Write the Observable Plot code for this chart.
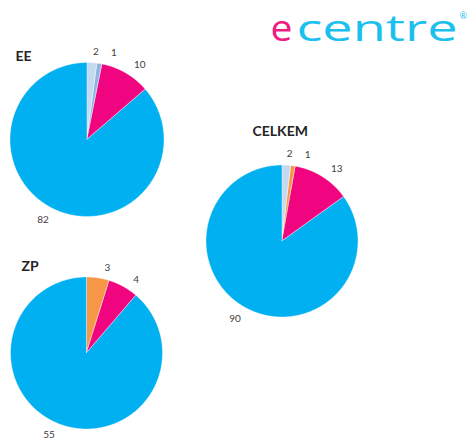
<!DOCTYPE html>
<html>
<head>
<meta charset="utf-8">
<script src="https://cdn.jsdelivr.net/npm/d3@7"></script>
<script src="https://cdn.jsdelivr.net/npm/@observablehq/plot@0.6"></script>
<style>
  html, body { margin: 0; padding: 0; background: #ffffff; }
  #chart { width: 467px; height: 439px; }
</style>
</head>
<body>
<div id="chart"></div>
<script>
// ---- data ----
const categories = ["kategorie 1", "kategorie 2", "kategorie 3", "kategorie 4", "kategorie 5"];
const pieNames = ["EE", "CELKEM", "ZP"];
const eeValues = [2, 1, 0, 10, 82];
const celkemValues = [2, 0, 1, 13, 90];
const zpValues = [0, 0, 3, 4, 55];
const logoParts = ["e", "centre", "®"];

// ---- style / layout ----
const colors = ["#C5D9F1", "#8DB4E2", "#F79646", "#F0047F", "#00B0F0"];
const W = 467, H = 439;
const layout = [
  { pie: "EE",     cx: 87,   cy: 139.5, r: 77, tx: 15,  ty: 60.5 },
  { pie: "CELKEM", cx: 282,  cy: 241,   r: 76, tx: 252, ty: 135 },
  { pie: "ZP",     cx: 86.5, cy: 353,   r: 76, tx: 21,  ty: 270 }
];
const seriesByPie = { EE: eeValues, CELKEM: celkemValues, ZP: zpValues };

const sliceRows = [];
const labelRows = [];
const titleRows = [];
for (const L of layout) {
  const vals = seriesByPie[L.pie];
  titleRows.push({ x: L.tx, y: L.ty, text: L.pie });
  const arcs = d3.pie().sort(null).value(d => d)(vals);
  const pieLabels = [];
  arcs.forEach((a, i) => {
    if (!a.value) return;
    const span = a.endAngle - a.startAngle;
    const n = Math.max(2, Math.ceil(span / 0.01) + 1);
    for (let k = 0; k < n; k++) {
      const t = a.startAngle + span * k / (n - 1);
      sliceRows.push({
        id: L.pie + "-" + i, cat: categories[i],
        x1: L.cx, y1: L.cy,
        x2: L.cx + L.r * Math.sin(t), y2: L.cy - L.r * Math.cos(t)
      });
    }
    const m = (a.startAngle + a.endAngle) / 2 + 0.08;
    const w = String(a.value).length * 5.6, h = 8;
    const ext = Math.abs(Math.sin(m)) * w / 2 + Math.abs(Math.cos(m)) * h / 2;
    const d = L.r + 8 + ext;
    pieLabels.push({ x: L.cx + d * Math.sin(m), y: Math.min(H - 5, L.cy - d * Math.cos(m)), text: String(a.value) });
  });
  // push apart labels that crowd each other
  for (let j = 1; j < pieLabels.length; j++) {
    const p = pieLabels[j - 1], q = pieLabels[j];
    if (Math.abs(q.y - p.y) < 12 && q.x - p.x < 18) {
      const need = (18 - (q.x - p.x)) / 2;
      p.x -= need; q.x += need;
    }
  }
  labelRows.push(...pieLabels);
}

const logoRows = [
  { x: 270, y: 40, text: logoParts[0], c: "#EF1C83", len: 22 },
  { x: 296, y: 40, text: logoParts[1], c: "#1CC0EF", len: 161 }
];

const chart = Plot.plot({
  width: W, height: H,
  margin: 0,
  x: { domain: [0, W], range: [0, W], axis: null },
  y: { domain: [0, H], range: [0, H], axis: null },
  color: { domain: categories, range: colors },
  style: { fontFamily: "Lato, 'Open Sans', sans-serif", background: "#ffffff" },
  marks: [
    Plot.area(sliceRows, {
      x1: "x1", y1: "y1", x2: "x2", y2: "y2", z: "id",
      fill: "cat", stroke: "#ffffff", strokeWidth: 0.4
    }),
    Plot.text(labelRows, {
      x: "x", y: "y", text: "text", fontSize: 10, fill: "#404040",
      textAnchor: "middle", lineAnchor: "middle"
    }),
    Plot.text(titleRows, {
      x: "x", y: "y", text: "text", fontSize: 14, fontWeight: "bold",
      fill: "#262626", textAnchor: "start", lineAnchor: "bottom"
    }),
    Plot.text(logoRows, {
      x: "x", y: "y", text: "text", fill: "c", fontSize: 37,
      fontFamily: "'Open Sans', sans-serif", fontWeight: 400,
      textAnchor: "start", lineAnchor: "bottom"
    }),
    Plot.text([{ x: 459, y: 18, text: logoParts[2] }], {
      x: "x", y: "y", text: "text", fill: "#1CC0EF", fontSize: 9,
      textAnchor: "start", lineAnchor: "bottom"
    })
  ]
});

document.getElementById("chart").appendChild(chart);
d3.select(chart).selectAll("text")
  .filter(function () {
    const g = this.parentNode;
    return g && g.getAttribute("font-size") === "37";
  })
  .each(function () {
    const row = logoRows.find(r => r.text === this.textContent);
    if (row) {
      this.setAttribute("textLength", row.len);
      this.setAttribute("lengthAdjust", "spacingAndGlyphs");
    }
  });
</script>
</body>
</html>
